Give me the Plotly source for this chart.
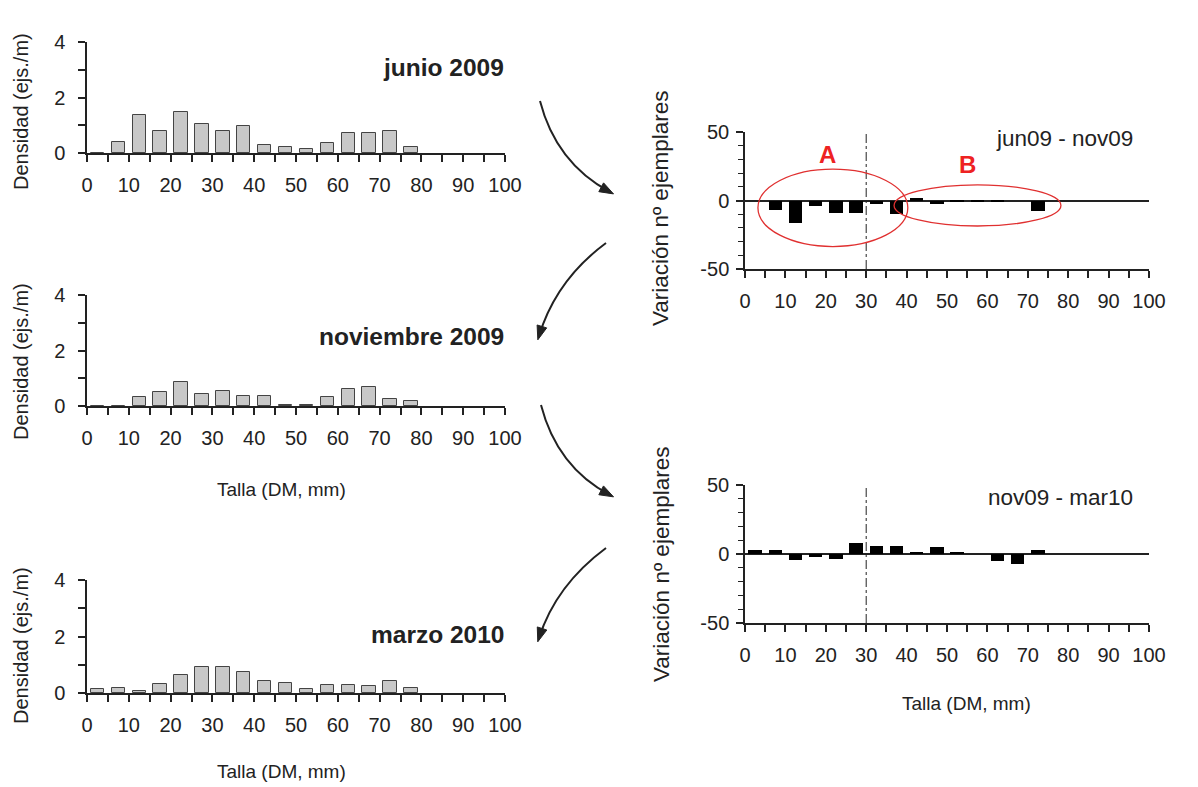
import plotly.graph_objects as go
import math

# ---------------- data ----------------
talla = [2.5, 7.5, 12.5, 17.5, 22.5, 27.5, 32.5, 37.5, 42.5, 47.5, 52.5, 57.5, 62.5, 67.5, 72.5, 77.5]
junio_2009 = [0, 0.39, 1.38, 0.81, 1.48, 1.03, 0.80, 0.96, 0.29, 0.22, 0.15, 0.35, 0.73, 0.73, 0.81, 0.22]
noviembre_2009 = [0, 0, 0.33, 0.49, 0.88, 0.42, 0.54, 0.37, 0.37, 0.05, 0.05, 0.33, 0.61, 0.69, 0.25, 0.18]
marzo_2010 = [0.14, 0.18, 0.07, 0.31, 0.64, 0.93, 0.93, 0.73, 0.42, 0.36, 0.14, 0.29, 0.29, 0.24, 0.44, 0.18]
var_jun_nov = [0, -6.7, -16.4, -4.3, -9, -9, -2.9, -9.5, 2, -2.4, -1.4, -0.5, -1, 0, -8, 0]
var_nov_mar = [2.6, 3, -4, -2.4, -3.8, 8.3, 6, 6, 1.4, 4.8, 1.4, 0, -5.2, -7.1, 3, 0]
x_ticks = [0, 10, 20, 30, 40, 50, 60, 70, 80, 90, 100]
var_ticks = [-50, 0, 50]
var_ticklabels = ["-50", "0", "50"]

# body margin is removed by post_script, so the figure fills the whole window
W, H = 1198, 787
FONT = "Liberation Sans, Arial, sans-serif"
TXT = "#222222"


def PX(x):
    return x / W


def PY(y):
    return 1 - y / H


fig = go.Figure()

left_panels = [("x", "y", junio_2009), ("x2", "y2", noviembre_2009), ("x3", "y3", marzo_2010)]
for xa, ya, vals in left_panels:
    fig.add_trace(go.Bar(x=talla, y=vals, xaxis=xa, yaxis=ya, width=3.2,
                         marker=dict(color="#c8c8c8", line=dict(color="#444444", width=1)),
                         showlegend=False))

right_panels = [("x4", "y4", var_jun_nov), ("x5", "y5", var_nov_mar)]
for xa, ya, vals in right_panels:
    fig.add_trace(go.Bar(x=talla, y=vals, xaxis=xa, yaxis=ya, width=3.3,
                         marker=dict(color="black", line=dict(width=0)),
                         showlegend=False))

tickfont = dict(family=FONT, size=20, color=TXT)


def xaxis(domain, anchor):
    return dict(domain=domain, anchor=anchor, range=[0, 100], tickvals=x_ticks,
                showline=True, linecolor="#222", linewidth=1.5, ticks="outside", ticklen=7,
                tickcolor="#222", tickwidth=1.5, tickfont=tickfont, ticklabelstandoff=6,
                minor=dict(dtick=5, tick0=0, ticks="outside", ticklen=7, tickcolor="#222", tickwidth=1.5),
                showgrid=False, zeroline=False, fixedrange=True, automargin=False)


def yaxis_left(domain, anchor):
    return dict(domain=domain, anchor=anchor, range=[0, 4], tickvals=[0, 2, 4],
                showline=True, linecolor="#222", linewidth=1.5, ticks="outside", ticklen=7,
                tickcolor="#222", tickwidth=1.5, tickfont=tickfont, ticklabelstandoff=9,
                minor=dict(dtick=1, tick0=0, ticks="outside", ticklen=7, tickcolor="#222", tickwidth=1.5),
                showgrid=False, zeroline=False, fixedrange=True, automargin=False)


def yaxis_right(domain, anchor):
    return dict(domain=domain, anchor=anchor, range=[-50, 50], tickvals=var_ticks,
                ticktext=var_ticklabels,
                showline=True, linecolor="#222", linewidth=1.5, ticks="outside", ticklen=7,
                tickcolor="#222", tickwidth=1.5, tickfont=tickfont, ticklabelstandoff=3,
                minor=dict(dtick=10, tick0=0, ticks="outside", ticklen=5, tickcolor="#222", tickwidth=1.2),
                showgrid=False, zeroline=True, zerolinecolor="#222", zerolinewidth=1.5,
                fixedrange=True, automargin=False)


LX = [PX(87), PX(505)]
RX = [PX(745), PX(1149)]
layout = dict(
    width=W, height=H, margin=dict(l=0, r=0, t=0, b=0, pad=0, autoexpand=False),
    paper_bgcolor="white", plot_bgcolor="rgba(0,0,0,0)",
    bargap=0, font=dict(family=FONT, color=TXT),
    xaxis=xaxis(LX, "y"), yaxis=yaxis_left([PY(153), PY(42)], "x"),
    xaxis2=xaxis(LX, "y2"), yaxis2=yaxis_left([PY(406), PY(295)], "x2"),
    xaxis3=xaxis(LX, "y3"), yaxis3=yaxis_left([PY(693), PY(580)], "x3"),
    xaxis4=xaxis(RX, "y4"), yaxis4=yaxis_right([PY(269), PY(132)], "x4"),
    xaxis5=xaxis(RX, "y5"), yaxis5=yaxis_right([PY(623), PY(485)], "x5"),
)
fig.update_layout(**layout)

annotations = []


def ann(text, x, y, size=19, bold=False, color=TXT, angle=0, xanchor="center", xref="paper", yref="paper"):
    t = f"<b>{text}</b>" if bold else text
    annotations.append(dict(text=t, x=x, y=y, xref=xref, yref=yref, showarrow=False,
                            textangle=angle, xanchor=xanchor, yanchor="middle",
                            font=dict(family=FONT, size=size, color=color)))


# y titles
ann("Densidad (ejs./m)", PX(21), PY(112), size=20, angle=-90)
ann("Densidad (ejs./m)", PX(21), PY(362), size=20, angle=-90)
ann("Densidad (ejs./m)", PX(21), PY(646), size=20, angle=-90)
ann("Variación nº ejemplares", PX(661), PY(209), size=22.5, angle=-90)
ann("Variación nº ejemplares", PX(661), PY(565), size=22.5, angle=-90)
# x titles
ann("Talla (DM, mm)", PX(281), PY(490), size=19)
ann("Talla (DM, mm)", PX(281), PY(771), size=19)
ann("Talla (DM, mm)", PX(966), PY(703), size=19)
# panel labels
ann("junio 2009", PX(506), PY(67), size=24.5, bold=True, xanchor="right")
ann("noviembre 2009", PX(506), PY(336), size=24.5, bold=True, xanchor="right")
ann("marzo 2010", PX(506), PY(634), size=24.5, bold=True, xanchor="right")
ann("jun09 - nov09", PX(1135), PY(138), size=22.5, xanchor="right")
ann("nov09 - mar10", PX(1135), PY(497), size=22.5, xanchor="right")
# A / B labels
ann("A", 20.5, 33.6, size=24, bold=True, color="#ee2222", xref="x4", yref="y4")
ann("B", 55, 26, size=24, bold=True, color="#ee2222", xref="x4", yref="y4")
fig.update_layout(annotations=annotations)

shapes = []
# dash-dot vertical lines at 30 mm
for xr, yr in [("x4", "y4"), ("x5", "y5")]:
    shapes.append(dict(type="line", xref=xr, yref=yr, x0=30, x1=30, y0=-50, y1=52,
                       line=dict(color="#222", width=1, dash="dashdot")))
# ellipses
shapes.append(dict(type="circle", xref="x4", yref="y4", x0=3.2, x1=40.3, y0=-33.6, y1=22.9,
                   line=dict(color="#e03030", width=1.3)))
shapes.append(dict(type="circle", xref="x4", yref="y4", x0=36.9, x1=78.2, y0=-18.6, y1=11.4,
                   line=dict(color="#e03030", width=1.3)))


def arrow(p0, c, p1):
    path = f"M {PX(p0[0])},{PY(p0[1])} Q {PX(c[0])},{PY(c[1])} {PX(p1[0])},{PY(p1[1])}"
    shapes.append(dict(type="path", xref="paper", yref="paper", path=path,
                       line=dict(color="#222", width=2)))
    dx, dy = p1[0] - c[0], p1[1] - c[1]
    n = math.hypot(dx, dy)
    ux, uy = dx / n, dy / n
    L, Wd = 14, 5
    bx, by = p1[0] + ux * 4, p1[1] + uy * 4
    base = (bx - ux * L, by - uy * L)
    a = (base[0] - uy * Wd, base[1] + ux * Wd)
    b = (base[0] + uy * Wd, base[1] - ux * Wd)
    tri = f"M {PX(bx)},{PY(by)} L {PX(a[0])},{PY(a[1])} L {PX(b[0])},{PY(b[1])} Z"
    shapes.append(dict(type="path", xref="paper", yref="paper", path=tri,
                       fillcolor="#222", line=dict(color="#222", width=1)))


arrow((540, 101), (556, 163), (610, 192))
arrow((606, 243), (556, 280), (539, 336))
arrow((541, 405), (557, 467), (610, 495))
arrow((606, 548), (556, 585), (539, 638))

fig.update_layout(shapes=shapes)
fig.write_html("out.html", config={"displayModeBar": False},
               post_script="document.body.style.margin='0';document.body.style.overflow='hidden';")
